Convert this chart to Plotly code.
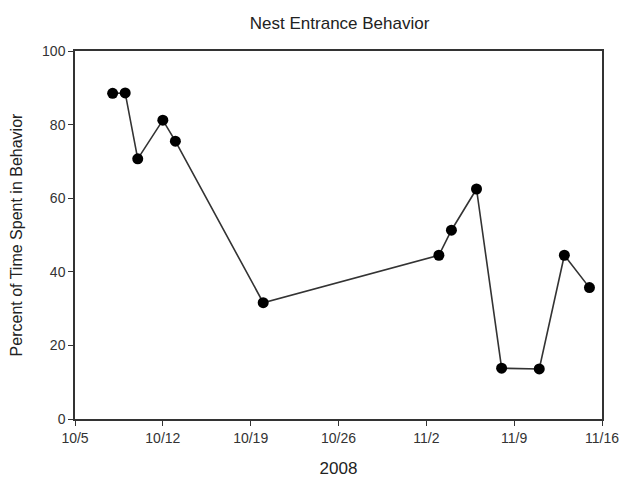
import plotly.graph_objects as go

dates = ["2008-10-08", "2008-10-09", "2008-10-10", "2008-10-12", "2008-10-13",
         "2008-10-20", "2008-11-03", "2008-11-04", "2008-11-06", "2008-11-08",
         "2008-11-11", "2008-11-13", "2008-11-15"]
percent = [88.5, 88.6, 70.7, 81.2, 75.5, 31.6, 44.5, 51.3, 62.5, 13.8, 13.6, 44.5, 35.7]

tick_dates = ["2008-10-05", "2008-10-12", "2008-10-19", "2008-10-26",
              "2008-11-02", "2008-11-09", "2008-11-16"]
tick_labels = ["10/5", "10/12", "10/19", "10/26", "11/2", "11/9", "11/16"]
y_ticks = [0, 20, 40, 60, 80, 100]

font_family = "Arial, 'Liberation Sans', sans-serif"

fig = go.Figure(go.Scatter(
    x=dates, y=percent, mode="lines+markers",
    line=dict(color="#333333", width=1.6),
    marker=dict(color="black", size=11),
    cliponaxis=False,
))

axis_common = dict(
    showline=True, linecolor="#333333", linewidth=1.5, mirror=True,
    ticks="outside", ticklen=5, tickwidth=1.2, tickcolor="#333333",
    showgrid=False, zeroline=False, automargin=False,
    tickfont=dict(family=font_family, size=14, color="#333333"),
)

fig.update_layout(
    width=622, height=478,
    margin=dict(l=75, r=20, t=51, b=59),
    paper_bgcolor="white", plot_bgcolor="white",
    showlegend=False,
    title=dict(text="Nest Entrance Behavior", x=0.546, xanchor="center",
               y=0.951, yanchor="middle", automargin=False,
               font=dict(family=font_family, size=17, color="#222222")),
    xaxis=dict(type="date", range=["2008-10-05", "2008-11-16"],
               tickvals=tick_dates, ticktext=tick_labels,
               title=dict(text="2008", standoff=18,
                          font=dict(family=font_family, size=17, color="#222222")),
               **axis_common),
    yaxis=dict(range=[0, 100], tickvals=y_ticks,
               title=dict(text="Percent of Time Spent in Behavior", standoff=15,
                          font=dict(family=font_family, size=16, color="#222222")),
               **axis_common),
)

# remove the browser's default page margin so the figure fills the window exactly
fig.write_html("out.html",
               config={"displayModeBar": False},
               post_script="document.body.style.margin='0px';"
                           "document.body.style.overflow='hidden';")
